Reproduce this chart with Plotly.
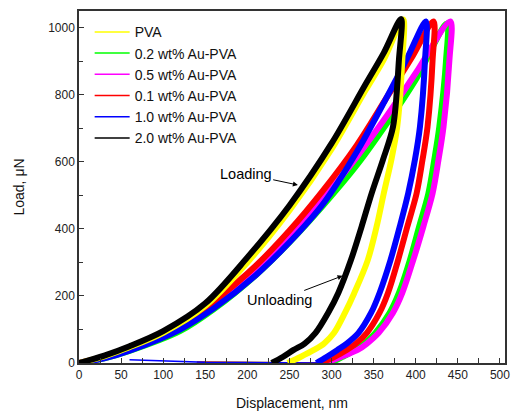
import plotly.graph_objects as go

# ---- data ----
names = ["PVA", "0.2 wt% Au-PVA", "0.5 wt% Au-PVA", "0.1 wt% Au-PVA", "1.0 wt% Au-PVA", "2.0 wt% Au-PVA"]
colors = ["#ffff00", "#00ff00", "#ff00ff", "#ff0000", "#0000ff", "#000000"]

# loading branches (displacement nm, load uN)
load_h_pva = [0, 30, 60, 100, 150, 200, 250, 300, 340, 362, 385]
load_p_pva = [0, 20, 47, 90, 170, 300, 455, 638, 812, 905, 1025]
load_h_02 = [0, 30, 60, 120, 160, 210, 250, 290, 330, 365, 400, 437]
load_p_02 = [0, 14, 36, 95, 160, 262, 360, 470, 590, 712, 845, 1013]
load_h_05 = [0, 30, 60, 120, 160, 210, 250, 290, 330, 365, 400, 441]
load_p_05 = [0, 16, 40, 104, 173, 278, 378, 490, 615, 735, 865, 1019]
load_h_01 = [0, 30, 60, 120, 160, 210, 250, 290, 330, 365, 395, 421]
load_p_01 = [0, 18, 44, 112, 183, 290, 395, 515, 650, 790, 910, 1019]
load_h_10 = [0, 30, 60, 120, 160, 210, 250, 290, 330, 365, 390, 412]
load_p_10 = [0, 14, 37, 100, 163, 262, 360, 475, 630, 790, 910, 1019]
load_h_20 = [0, 30, 60, 100, 150, 200, 250, 300, 340, 362, 382.5]
load_p_20 = [0, 22, 50, 95, 178, 315, 470, 655, 830, 925, 1026]

# unloading branches (shared load levels, displacement per sample)
unl_p = [904, 705, 606, 506, 407, 307, 209, 150, 90, 58, 39, 18, 0]
unl_h_pva = [384, 378, 371, 362, 353.5, 343, 327, 316, 303, 291, 279, 263, 248]
unl_h_02 = [436, 428, 422, 415, 404, 393, 380, 369, 352, 339, 328, 313, 299]
unl_h_05 = [440, 433, 427, 420, 409, 397, 384, 373, 356, 342, 331, 311, 292]
unl_h_01 = [420, 414, 408, 401, 390, 379, 367, 357, 342, 329, 318, 303, 287]
unl_h_10 = [411, 405, 399, 391, 381, 370, 357, 347, 332, 318, 307, 294, 282]
unl_h_20 = [380, 373, 361, 347.6, 335.7, 323, 308, 296, 281, 268, 255, 242, 229]

# retraction traces along the baseline
ret_h_10 = [282, 200, 150, 60]
ret_p_10 = [0, 1, 2, 10]
ret_h_01 = [287, 200, 140]
ret_p_01 = [0, 1, 3]
ret_h_02 = [299, 180, 140]
ret_p_02 = [0, 1, 2]

loads = [(load_h_pva, load_p_pva), (load_h_02, load_p_02), (load_h_05, load_p_05),
         (load_h_01, load_p_01), (load_h_10, load_p_10), (load_h_20, load_p_20)]
unloads = [unl_h_pva, unl_h_02, unl_h_05, unl_h_01, unl_h_10, unl_h_20]

fig = go.Figure()

for hh, pp, c in [(ret_h_02, ret_p_02, "#00ff00"), (ret_h_01, ret_p_01, "#ff0000"), (ret_h_10, ret_p_10, "#0000ff")]:
    fig.add_trace(go.Scatter(x=hh, y=pp, mode="lines", line=dict(color=c, width=1.5),
                             showlegend=False, hoverinfo="skip"))

# drawing order: green, magenta, red, blue, yellow, black
order = [1, 2, 3, 4, 0, 5]
for i in order:
    lh, lp = loads[i]
    xs = list(lh) + list(unloads[i])
    ys = list(lp) + list(unl_p)
    fig.add_trace(go.Scatter(x=xs, y=ys, mode="lines",
                             line=dict(color=colors[i], width=6, shape="spline", smoothing=0.9),
                             showlegend=False, hoverinfo="skip"))

for i in range(6):
    fig.add_trace(go.Scatter(x=[None], y=[None], mode="lines", name=names[i],
                             line=dict(color=colors[i], width=1.5)))

fig.add_annotation(x=260, y=531, ax=198, ay=564, axref="x", ayref="y", xref="x", yref="y",
                   text="Loading", showarrow=True, arrowhead=2, arrowsize=1, arrowwidth=1,
                   arrowcolor="#000", font=dict(size=14.5, color="#000"))
fig.add_annotation(x=313, y=260, ax=238, ay=188, axref="x", ayref="y", xref="x", yref="y",
                   text="Unloading", showarrow=True, arrowhead=2, arrowsize=1, arrowwidth=1,
                   arrowcolor="#000", font=dict(size=14.5, color="#000"))

axis_common = dict(showline=True, linecolor="#333", linewidth=1.5, mirror=True,
                   ticks="inside", ticklen=5, tickwidth=1, tickcolor="#333",
                   showgrid=False, zeroline=False, automargin=False,
                   tickfont=dict(size=12, color="#222"))

fig.update_xaxes(range=[0, 506], tickvals=[0, 50, 100, 150, 200, 250, 300, 350, 400, 450, 500],
                 minor=dict(dtick=25, ticks="inside", ticklen=5, tickcolor="#333", showgrid=False),
                 title=dict(text="Displacement, nm", font=dict(size=14, color="#111"), standoff=17),
                 **axis_common)
fig.update_yaxes(range=[0, 1050], tickvals=[0, 200, 400, 600, 800, 1000],
                 minor=dict(dtick=100, ticks="inside", ticklen=4, tickcolor="#333", showgrid=False),
                 title=dict(text="Load, μN", font=dict(size=14, color="#111"), standoff=20),
                 **axis_common)

fig.update_layout(
    width=511, height=413,
    margin=dict(l=79, r=6, t=11, b=50),
    paper_bgcolor="white", plot_bgcolor="white",
    font=dict(family="Liberation Sans, Arial, sans-serif", color="#111"),
    legend=dict(x=0.025, y=0.985, xanchor="left", yanchor="top", bgcolor="rgba(0,0,0,0)",
                font=dict(size=14, color="#111"), tracegroupgap=0, itemwidth=35),
)

fig.write_html("out.html")
